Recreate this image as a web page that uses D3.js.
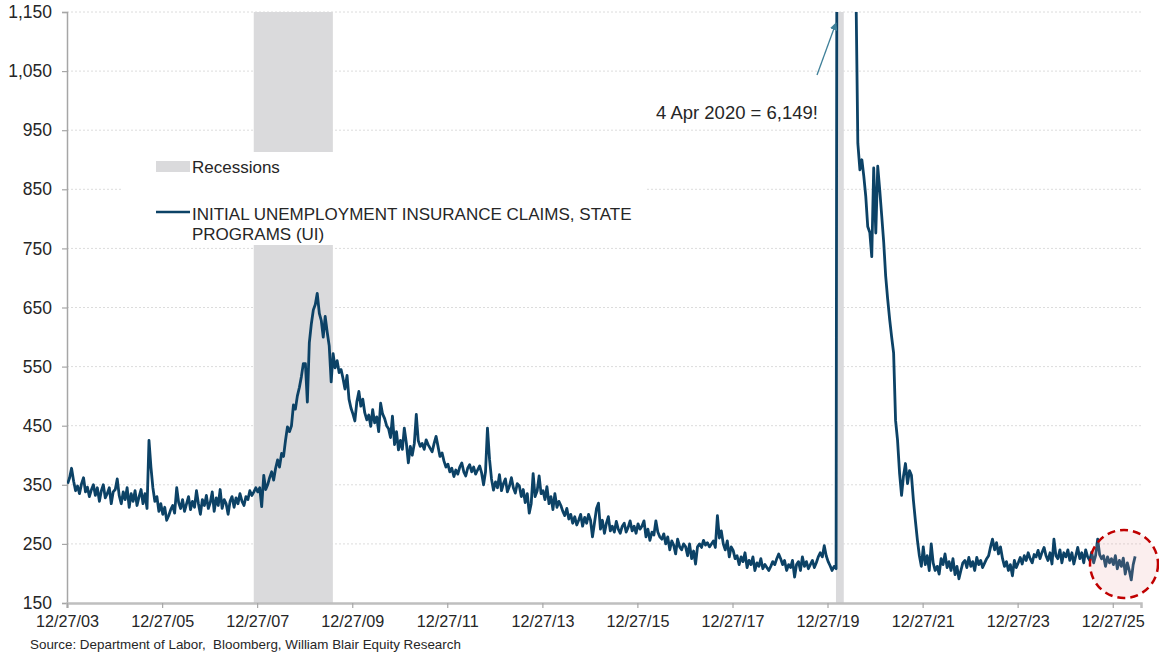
<!DOCTYPE html>
<html>
<head>
<meta charset="utf-8">
<script src="https://cdn.jsdelivr.net/npm/d3@7"></script>
<style>
  body { margin: 0; background: #fff; }
  text { font-family: "Liberation Sans", Arial, sans-serif; }
</style>
</head>
<body>
<div id="chart"></div>
<script>
//Weekly initial claims (thousands), read twice a month off the picture
var claims2004 = [352, 362, 378, 356, 340, 348, 335, 352, 362, 338, 346, 330, 342, 350, 332, 345, 322, 340, 350, 328, 335, 345, 318, 338],
    claims2005 = [342, 360, 332, 318, 338, 325, 345, 312, 335, 322, 340, 315, 330, 342, 318, 335, 310, 425, 380, 345, 322, 330, 305, 318],
    claims2006 = [300, 312, 290, 298, 308, 315, 302, 345, 320, 310, 325, 305, 318, 330, 308, 322, 312, 340, 318, 300, 325, 315, 332, 310],
    claims2007 = [320, 338, 305, 328, 315, 342, 310, 325, 318, 300, 322, 330, 312, 328, 318, 335, 322, 315, 330, 325, 340, 332, 338, 345],
    claims2008 = [338, 345, 313, 366, 342, 350, 362, 372, 358, 378, 392, 380, 403, 398, 425, 448, 440, 450, 485, 478, 500, 515, 533, 555],
    claims2009 = [555, 490, 590, 623, 646, 655, 674, 640, 628, 600, 635, 609, 585, 524, 572, 548, 560, 540, 545, 530, 512, 535, 495, 480],
    claims2010 = [470, 458, 490, 508, 483, 495, 472, 460, 468, 449, 477, 455, 465, 440, 488, 470, 462, 450, 445, 430, 466, 418, 440, 409],
    claims2011 = [425, 410, 446, 420, 387, 415, 400, 420, 469, 425, 415, 420, 410, 426, 418, 412, 406, 420, 432, 415, 398, 404, 390, 380],
    claims2012 = [385, 372, 378, 364, 375, 368, 380, 387, 372, 365, 378, 384, 372, 380, 368, 375, 382, 370, 350, 372, 446, 393, 360, 341],
    claims2013 = [355, 345, 367, 340, 352, 360, 338, 348, 362, 345, 336, 352, 348, 330, 342, 320, 335, 302, 318, 369, 330, 340, 365, 335],
    claims2014 = [340, 325, 347, 318, 330, 308, 335, 312, 322, 315, 305, 298, 310, 292, 300, 285, 296, 282, 290, 300, 280, 295, 285, 300],
    claims2015 = [290, 262, 285, 310, 319, 275, 290, 268, 285, 296, 272, 280, 270, 288, 275, 268, 280, 285, 270, 278, 289, 272, 280, 268],
    claims2016 = [284, 275, 280, 289, 262, 275, 256, 270, 265, 289, 270, 262, 258, 267, 250, 262, 240, 255, 248, 233, 258, 245, 240, 250],
    claims2017 = [245, 230, 250, 225, 238, 216, 245, 250, 244, 256, 248, 252, 245, 250, 255, 244, 298, 260, 272, 250, 240, 255, 228, 245],
    claims2018 = [239, 225, 230, 215, 228, 220, 235, 210, 222, 215, 228, 205, 218, 212, 225, 208, 215, 210, 205, 212, 220, 215, 225, 233],
    claims2019 = [225, 215, 222, 205, 215, 210, 222, 194, 215, 220, 205, 228, 212, 220, 208, 215, 222, 210, 218, 228, 235, 228, 247, 230],
    claims2020 = [220, 213, 205, 212, 208, 2914, 6149, 4300, 3150, 2450, 2050, 1650, 1450, 1320, 1200, 928, 883, 900, 872, 838, 787, 777, 736, 886],
    claims2021 = [776, 889, 850, 804, 760, 703, 665, 629, 600, 573, 459, 426, 369, 332, 365, 386, 352, 374, 366, 324, 290, 256, 230, 212],
    claims2022 = [245, 215, 230, 205, 250, 218, 205, 212, 199, 225, 215, 233, 210, 220, 205, 225, 198, 212, 191, 205, 218, 222, 210, 227],
    claims2023 = [212, 220, 205, 227, 215, 222, 210, 218, 225, 230, 245, 258, 240, 252, 233, 245, 225, 212, 220, 205, 215, 196, 222, 210],
    claims2024 = [218, 227, 216, 230, 222, 235, 225, 218, 232, 228, 239, 225, 236, 244, 230, 222, 235, 216, 258, 230, 225, 240, 218, 235],
    claims2025 = [228, 240, 222, 235, 216, 230, 244, 225, 235, 218, 240, 228, 222, 236, 218, 230, 258, 232, 225, 230, 212, 228, 218, 225],
    claims2026 = [215, 230, 208, 222, 212, 226, 199, 218, 205, 189, 215, 229];

var claimsByYear = [claims2004, claims2005, claims2006, claims2007, claims2008, claims2009, claims2010,
    claims2011, claims2012, claims2013, claims2014, claims2015, claims2016, claims2017, claims2018,
    claims2019, claims2020, claims2021, claims2022, claims2023, claims2024, claims2025, claims2026];

//Recession periods
var recessionStarts = ["2007-12-01", "2020-03-01"],
    recessionEnds = ["2009-07-31", "2020-04-30"];

//Axis ticks
var tickYears = d3.range(2003, 2026, 2),
    yTicks = d3.range(150, 1151, 100);

//Size of the SVG and plot box
var width = 1159,
    height = 655,
    plotLeft = 67,
    plotRight = 1141,
    plotTop = 12,
    plotBottom = 603,
    lineColor = "#0c4266",
    textColor = "#262626";

var parseDay = d3.timeParse("%Y-%m-%d");

//One point per half month
var data = [];
claimsByYear.forEach(function(vals, k) {
    var start = new Date(2004 + k, 0, 1);
    vals.forEach(function(v, i) {
        data.push({date: d3.timeDay.offset(start, Math.round(i * 365.25 / 24)), value: v});
    });
});

var x = d3.scaleTime()
    .domain([new Date(2003, 11, 27), new Date(2026, 7, 1)])
    .range([plotLeft, plotRight]);

var y = d3.scaleLinear()
    .domain([150, 1150])
    .range([plotBottom, plotTop]);

var svg = d3.select("#chart").append("svg")
    .attr("width", width)
    .attr("height", height);

svg.append("defs").append("clipPath").attr("id", "plotClip")
    .append("rect")
    .attr("x", plotLeft).attr("y", plotTop)
    .attr("width", plotRight - plotLeft).attr("height", plotBottom - plotTop);

//Dotted gridlines
svg.append("g").attr("class", "grid")
    .selectAll("line")
    .data(yTicks.slice(1)).enter().append("line")
    .attr("x1", plotLeft)
    .attr("x2", plotRight)
    .attr("y1", function(d) {return y(d);})
    .attr("y2", function(d) {return y(d);})
    .style("stroke", "#dcdcdc")
    .style("stroke-width", 1)
    .style("stroke-dasharray", "2,2");

//Recession shading
svg.append("g").attr("class", "recessions")
    .selectAll("rect")
    .data(recessionStarts).enter().append("rect")
    .attr("x", function(d) {return x(parseDay(d));})
    .attr("y", plotTop)
    .attr("width", function(d, i) {return x(parseDay(recessionEnds[i])) - x(parseDay(d));})
    .attr("height", plotBottom - plotTop)
    .style("fill", "#dadadc");

//Legend box
var legend = svg.append("g").attr("class", "legend");
legend.append("rect")
    .attr("x", 123).attr("y", 152)
    .attr("width", 522).attr("height", 93)
    .style("fill", "#fff");
legend.append("rect")
    .attr("x", 156).attr("y", 161)
    .attr("width", 34).attr("height", 11)
    .style("fill", "#dadadc");
legend.append("text")
    .attr("x", 192).attr("y", 172.5)
    .style("font-size", "17px")
    .style("fill", textColor)
    .text("Recessions");
legend.append("line")
    .attr("x1", 156).attr("x2", 190)
    .attr("y1", 212).attr("y2", 212)
    .style("stroke", lineColor)
    .style("stroke-width", 2.5);
legend.append("text")
    .attr("x", 192).attr("y", 219.5)
    .style("font-size", "17px")
    .style("fill", textColor)
    .text("INITIAL UNEMPLOYMENT INSURANCE CLAIMS, STATE");
legend.append("text")
    .attr("x", 192).attr("y", 239.5)
    .style("font-size", "17px")
    .style("fill", textColor)
    .text("PROGRAMS (UI)");

//Axes
var yAxis = svg.append("g")
    .attr("transform", "translate(" + plotLeft + ",0)")
    .call(d3.axisLeft(y).tickValues(yTicks).tickFormat(d3.format(",")).tickSize(5).tickPadding(10));

var xAxis = svg.append("g")
    .attr("transform", "translate(0," + plotBottom + ")")
    .call(d3.axisBottom(x)
        .tickValues(tickYears.map(function(yr) {return new Date(yr, 11, 27);}))
        .tickFormat(d3.timeFormat("%m/%d/%y"))
        .tickSize(5).tickPadding(7));

[yAxis, xAxis].forEach(function(ax) {
    ax.select(".domain").style("stroke", "#a6a6a6").style("stroke-width", 1.5);
    ax.selectAll(".tick line").style("stroke", "#a6a6a6").style("stroke-width", 1.2);
    ax.selectAll(".tick text")
        .style("font-family", "'Liberation Sans', Arial, sans-serif")
        .style("font-size", "17.5px")
        .style("fill", textColor);
});
xAxis.selectAll(".tick text").style("font-size", "16.2px");
xAxis.select(".domain").style("stroke", "#bfbfbf").style("stroke-width", 2.5);

//Claims line
var line = d3.line()
    .x(function(d) {return x(d.date);})
    .y(function(d) {return y(d.value);});

svg.append("path")
    .datum(data)
    .attr("clip-path", "url(#plotClip)")
    .attr("d", line)
    .style("fill", "none")
    .style("stroke", lineColor)
    .style("stroke-width", 2.8)
    .style("stroke-linejoin", "round");

//Peak annotation with arrow
svg.append("defs").append("marker")
    .attr("id", "arrowHead")
    .attr("viewBox", "0 0 10 10")
    .attr("refX", 9).attr("refY", 5)
    .attr("markerWidth", 6).attr("markerHeight", 6)
    .attr("orient", "auto")
    .append("path")
    .attr("d", "M0,0L10,5L0,10z")
    .style("fill", "#3f8099");

svg.append("line")
    .attr("x1", 817).attr("y1", 75)
    .attr("x2", 836).attr("y2", 23)
    .style("stroke", "#3f8099")
    .style("stroke-width", 1.3)
    .attr("marker-end", "url(#arrowHead)");

svg.append("text")
    .attr("x", 818).attr("y", 119)
    .attr("text-anchor", "end")
    .style("font-size", "18.5px")
    .style("fill", textColor)
    .text("4 Apr 2020 = 6,149!");

//Highlight on latest readings
svg.append("circle")
    .attr("cx", 1124).attr("cy", 564).attr("r", 34)
    .style("fill", "#e8a0a0")
    .style("fill-opacity", 0.18)
    .style("stroke", "#c00000")
    .style("stroke-width", 2.5)
    .style("stroke-dasharray", "8,5");

//Source
svg.append("text")
    .attr("x", 30).attr("y", 649)
    .style("font-size", "13.4px")
    .style("fill", textColor)
    .style("white-space", "pre")
    .text("Source: Department of Labor,  Bloomberg, William Blair Equity Research");
</script>
</body>
</html>
